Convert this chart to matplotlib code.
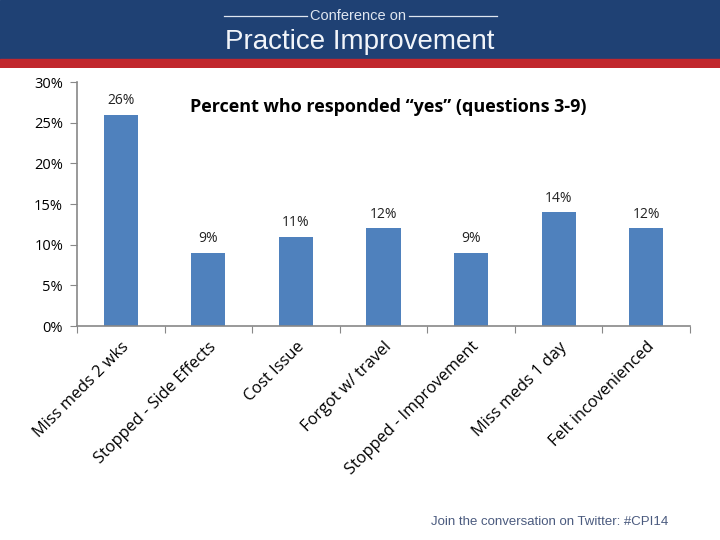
import matplotlib.pyplot as plt
from matplotlib.ticker import FuncFormatter
import numpy as np

categories = ["Miss meds 2 wks", "Stopped - Side Effects", "Cost Issue", "Forgot w/ travel",
              "Stopped - Improvement", "Miss meds 1 day", "Felt incovenienced"]
values = [26, 9, 11, 12, 9, 14, 12]
value_labels = ["26%", "9%", "11%", "12%", "9%", "14%", "12%"]
yticks = [0, 5, 10, 15, 20, 25, 30]

plt.rcParams['font.family'] = ['Open Sans', 'DejaVu Sans']

fig = plt.figure(figsize=(7.2, 5.4), dpi=100)

# header band
hdr = fig.add_axes([0, 1 - 68 / 540, 1, 68 / 540])
hdr.set_xlim(0, 720)
hdr.set_ylim(68, 0)
hdr.axis('off')
hdr.add_patch(plt.Rectangle((0, 0), 720, 60, color='#1f4174'))
hdr.add_patch(plt.Rectangle((0, 59), 720, 9, color='#c1272d'))
hdr.plot([224, 307], [16, 16], color='#dfe6f0', lw=0.9)
hdr.plot([409, 497], [16, 16], color='#dfe6f0', lw=0.9)
hdr.text(358, 16, "Conference on", color='#dfe6f0', fontsize=10.5, ha='center', va='center',
         family=['Liberation Sans'])
hdr.text(360, 42, "Practice Improvement", color='#f2f5fa', fontsize=20, ha='center', va='center',
         family=['Liberation Sans'])

ax = fig.add_axes([77 / 720, 1 - 326 / 540, 613 / 720, 244 / 540])
x = np.arange(len(categories))
ax.bar(x, values, width=0.39, color='#4f81bd')
for xi, v, lab in zip(x, values, value_labels):
    ax.text(xi, v + 0.8, lab, ha='center', va='bottom', fontsize=10, color='#222222')

ax.set_xlim(-0.5, len(categories) - 0.5)
ax.set_ylim(0, 30)
ax.set_yticks(yticks)
ax.yaxis.set_major_formatter(FuncFormatter(lambda v, _: "%d%%" % v))
ax.set_xticks(np.arange(len(categories) + 1) - 0.5)
ax.set_xticklabels([])
ax.tick_params(axis='x', length=5, color='#888888', direction='out')
ax.tick_params(axis='y', length=5, color='#888888', direction='out', labelsize=10.5, pad=5)
for i, c in enumerate(categories):
    ax.text(i, -1.6, c, rotation=45, ha='right', va='top', rotation_mode='anchor',
            fontsize=11.8, transform=ax.transData)
for s in ['top', 'right']:
    ax.spines[s].set_visible(False)
for s in ['left', 'bottom']:
    ax.spines[s].set_color('#888888')
    ax.spines[s].set_linewidth(1.2)

fig.text(388 / 720, 1 - 107 / 540, "Percent who responded \u201cyes\u201d (questions 3-9)", fontsize=13,
         fontweight='bold', ha='center', va='center')

fig.text(550 / 720, 1 - 522 / 540, "Join the conversation on Twitter: #CPI14", fontsize=9.5,
         color='#4a5a7e', ha='center', va='center', family=['Liberation Sans'])

plt.savefig("out.png", dpi=100)
